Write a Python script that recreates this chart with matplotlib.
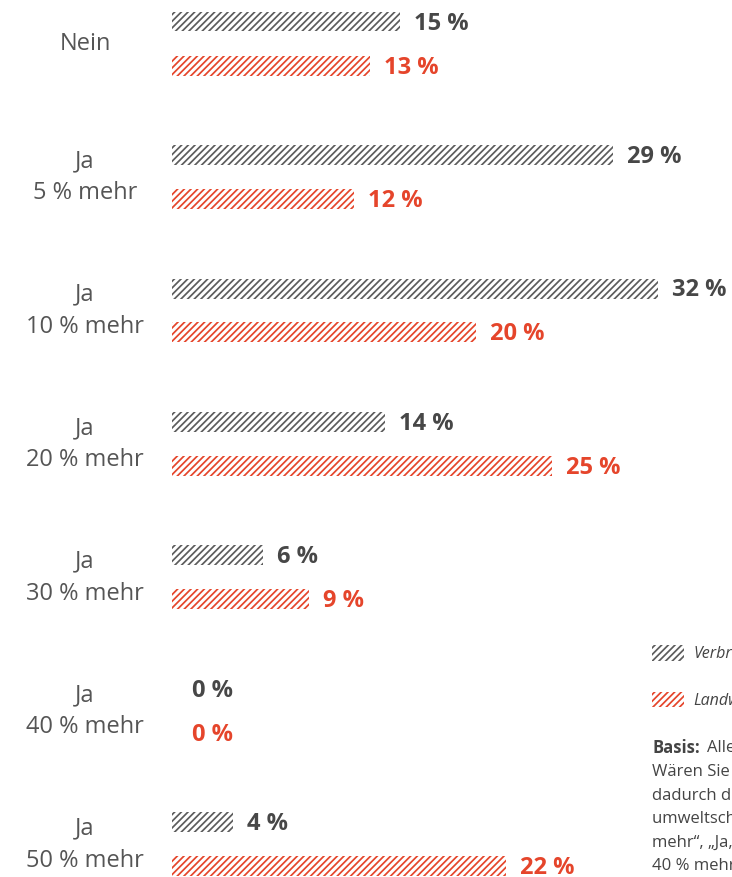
import matplotlib

matplotlib.use("Agg")

import matplotlib.pyplot as plt
from matplotlib.patches import Patch

plt.rcParams["font.family"] = ["Open Sans", "DejaVu Sans"]
plt.rcParams["hatch.linewidth"] = 1.25

categories = ["Nein", "Ja\n5 % mehr", "Ja\n10 % mehr", "Ja\n20 % mehr",
              "Ja\n30 % mehr", "Ja\n40 % mehr", "Ja\n50 % mehr"]
verbraucher = [15, 29, 32, 14, 6, 0, 4]
landwirte = [13, 12, 20, 25, 9, 0, 22]
series_names = ["Verbraucher", "Landwirte"]

GRAY = "#5c5c5c"
GRAY_TEXT = "#474747"
RED = "#e5452b"
LABEL = "#555555"
HATCH = "/////"

W, H = 732, 877
fig = plt.figure(figsize=(W / 100, H / 100), dpi=100)

# bar axis: 15.2 px per percent point, groups 133.5 px apart
x0 = 172
px_per_pct = 15.2
group_px = 133.5
ax = fig.add_axes([x0 / W, 0, (W - x0) / W, 1])
ax.set_xlim(0, (W - x0) / px_per_pct)
ax.set_ylim((H - 43.5) / group_px, -43.5 / group_px)
ax.axis("off")

off = 22 / group_px
h = 20 / group_px
ys = list(range(len(categories)))

ax.barh([y - off for y in ys], verbraucher, height=h, facecolor="none",
        edgecolor=GRAY, hatch=HATCH, linewidth=0)
ax.barh([y + off for y in ys], landwirte, height=h, facecolor="none",
        edgecolor=RED, hatch=HATCH, linewidth=0)

for y, v in zip(ys, verbraucher):
    ax.annotate(f"{v} %", (v, y - off), xytext=(14 if v else 20, -2),
                textcoords="offset pixels", va="center", ha="left",
                fontsize=17, fontweight="bold", color=GRAY_TEXT)
for y, v in zip(ys, landwirte):
    ax.annotate(f"{v} %", (v, y + off), xytext=(14 if v else 20, -2),
                textcoords="offset pixels", va="center", ha="left",
                fontsize=17, fontweight="bold", color=RED)

for y, label in zip(ys, categories):
    ax.annotate(label, (0, y), xytext=(85 - x0, 0), textcoords="offset pixels",
                va="center", ha="center", fontsize=17, color=LABEL,
                linespacing=1.45, annotation_clip=False)

handles = [Patch(facecolor="none", edgecolor=GRAY, hatch=HATCH, linewidth=0),
           Patch(facecolor="none", edgecolor=RED, hatch=HATCH, linewidth=0)]
fig.legend(handles, series_names, loc="upper left",
           bbox_to_anchor=(646 / W, 1 - 639 / H), frameon=False,
           borderaxespad=0, borderpad=0.4,
           handlelength=2.0, handleheight=1.1, handletextpad=0.55,
           labelspacing=1.85,
           prop={"style": "italic", "size": 11.5}, labelcolor="#444444")

basis_lines = [
    "Wären Sie bereit, mehr zu bezahlen, wenn",
    "dadurch die Landwirtschaft",
    "umweltschonender wirtschaftet?",
    "mehr“, „Ja, 30 % mehr“, „Ja,",
    "40 % mehr“, „Ja, 50 % mehr“",
]
fig.text(652 / W, 1 - 748 / H, "Basis:", fontsize=12, fontweight="bold",
         color="#444444", va="center", ha="left")
fig.text(707 / W, 1 - 748 / H, "Alle Befragten", fontsize=12,
         color="#444444", va="center", ha="left")
for i, line in enumerate(basis_lines):
    fig.text(652 / W, 1 - (772 + 23.5 * i) / H, line, fontsize=12,
             color="#444444", va="center", ha="left")

fig.savefig("out.png", dpi=100)
